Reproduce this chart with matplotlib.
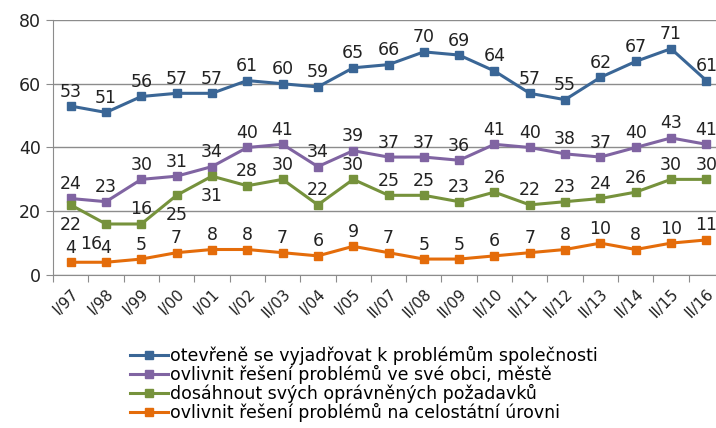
import matplotlib
matplotlib.use("Agg")
import matplotlib.pyplot as plt

periods = ["I/97", "I/98", "I/99", "I/00", "I/01", "I/02", "II/03", "I/04", "I/05",
           "II/07", "II/08", "II/09", "II/10", "II/11", "II/12", "II/13", "II/14",
           "II/15", "II/16"]

otevrene = [53, 51, 56, 57, 57, 61, 60, 59, 65, 66, 70, 69, 64, 57, 55, 62, 67, 71, 61]
obec = [24, 23, 30, 31, 34, 40, 41, 34, 39, 37, 37, 36, 41, 40, 38, 37, 40, 43, 41]
pozadavky = [22, 16, 16, 25, 31, 28, 30, 22, 30, 25, 25, 23, 26, 22, 23, 24, 26, 30, 30]
celostatni = [4, 4, 5, 7, 8, 8, 7, 6, 9, 7, 5, 5, 6, 7, 8, 10, 8, 10, 11]

series = [
    ("otevřeně se vyjadřovat k problémům společnosti", otevrene, "#3a6696"),
    ("ovlivnit řešení problémů ve své obci, městě", obec, "#8064a2"),
    ("dosáhnout svých oprávněných požadavků", pozadavky, "#76923c"),
    ("ovlivnit řešení problémů na celostátní úrovni", celostatni, "#e46c0a"),
]
# labels of the green series that sit below their points (dx in points)
below = {("dosáhnout svých oprávněných požadavků", 0): 0,
         ("dosáhnout svých oprávněných požadavků", 1): -11,
         ("dosáhnout svých oprávněných požadavků", 3): 0,
         ("dosáhnout svých oprávněných požadavků", 4): 0}

fig = plt.figure(figsize=(7.16, 4.28), dpi=100)
ax = fig.add_axes([53 / 716, 153 / 428, 671 / 716, 255 / 428])

x = list(range(len(periods)))
for name, vals, col in series:
    ax.plot(x, vals, color=col, lw=2.2, marker="s", ms=6, label=name, zorder=3)
    for i, v in enumerate(vals):
        if (name, i) in below:
            ax.annotate(str(v), (i, v), xytext=(below[(name, i)], -8),
                        textcoords="offset points", ha="center", va="top",
                        fontsize=12.5, color="#222222")
        else:
            ax.annotate(str(v), (i, v), xytext=(0, 4), textcoords="offset points",
                        ha="center", va="bottom", fontsize=12.5, color="#222222")

ax.set_xlim(-0.5, len(periods) - 0.5)
ax.set_ylim(0, 80)
ax.set_yticks([0, 20, 40, 60, 80])
ax.yaxis.grid(True, color="#8c8c8c", lw=1)
ax.set_axisbelow(True)
ax.tick_params(axis="y", labelsize=12.5, length=5, color="#8c8c8c", labelcolor="#222222")

# category ticks sit between the points, labels at the points
ax.set_xticks([i - 0.5 for i in x] + [len(periods) - 0.5])
ax.set_xticks(x, minor=True)
ax.set_xticklabels([])
ax.set_xticklabels(periods, minor=True, rotation=45, ha="right",
                   rotation_mode="anchor", fontsize=11, color="#222222")
ax.tick_params(axis="x", which="major", length=5, color="#8c8c8c")
ax.tick_params(axis="x", which="minor", length=0, pad=8)

for s in ("top", "right"):
    ax.spines[s].set_visible(False)
for s in ("left", "bottom"):
    ax.spines[s].set_color("#8c8c8c")

fig.legend(loc="upper left", bbox_to_anchor=(130 / 716, 1 - 346 / 428),
           frameon=False, fontsize=12.5, handlelength=2.2, handletextpad=0.1,
           labelspacing=0.0, borderaxespad=0, borderpad=0)

fig.savefig("out.png", dpi=100)
